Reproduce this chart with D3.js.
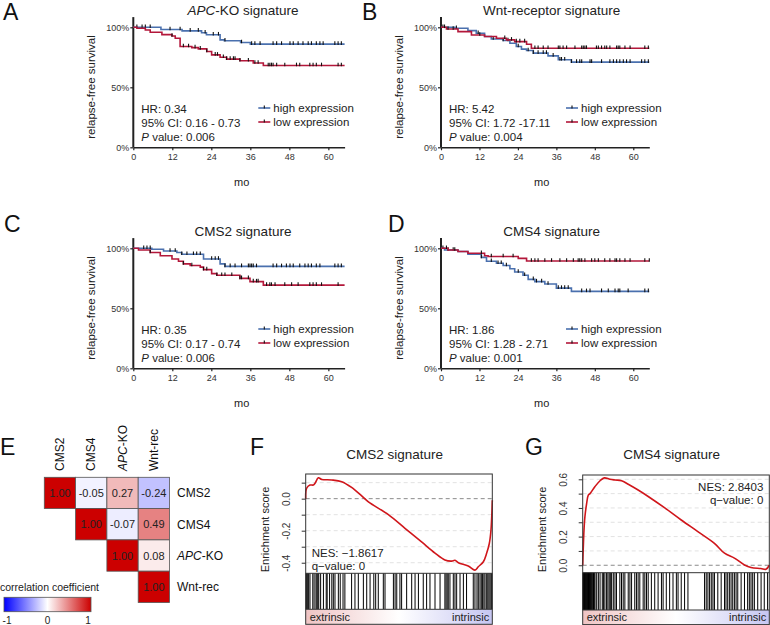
<!DOCTYPE html>
<html><head><meta charset="utf-8">
<script src="https://cdn.jsdelivr.net/npm/d3@7"></script>
<style>
body{margin:0;background:#fff;}
svg{display:block;font-family:"Liberation Sans",Arial,Helvetica,sans-serif;}
</style></head><body>
<svg id="c" width="770" height="625"></svg>
<script>
// ---------------- DATA ----------------
const monthTicks = [0, 12, 24, 36, 48, 60];
const survTicks = [0, 50, 100];
const legendLabels = ["high expression", "low expression"];

// Kaplan-Meier steps: [month, survival %]
const kmA_high = [[0,100],[8.5,98.2],[15,97],[21,95.5],[22.5,93.8],[26.7,89.5],[28,88.8],[33,87.3],[36,86]];
const kmA_low  = [[0,100],[1.1,99.2],[3.7,97.8],[5.2,95.9],[8.8,93.9],[11.9,92.8],[12.9,90.9],[14.4,84],[18,83.1],[20,82],[22.6,79.8],[24.1,77],[26.7,75.1],[28.7,73.5],[32.8,72.1],[36.9,70.2],[40,68.2]];
const kmB_high = [[0,100],[4.3,99.2],[8.4,97.2],[11,95],[13.6,92.3],[15.7,90.3],[19.4,89],[21.5,86.7],[23.5,84],[25.1,81.8],[26.7,80.7],[28.8,78.5],[33.4,76.2],[36.6,72.9],[40.7,71]];
const kmB_low  = [[0,100],[1.7,98.6],[5.3,96.4],[9.5,93.6],[13.6,92.3],[17.3,90.9],[20.4,89.5],[23,88.1],[26.7,85.9],[28.2,82.6]];
const kmC_high = [[0,100],[5.7,99.2],[9.3,97.8],[13.4,96.5],[14.9,95.1],[21.6,91.1],[26.7,87],[28.2,84.9]];
const kmC_low  = [[0,100],[1.6,98.6],[5.2,96.5],[8.3,93.8],[11.9,91.1],[13.9,89.2],[15.4,87],[17.5,85.7],[20.6,84.3],[21.6,82.2],[24.1,78.9],[25.7,77.6],[32.8,74.9],[35.9,72.2],[40,69.3]];
const kmD_high = [[0,100],[1.1,98.6],[5.3,97.3],[8.4,95.1],[12.6,92.4],[14.2,89.2],[17.3,87.6],[19.4,85.7],[21.5,83],[23,80.3],[25.6,77.6],[27.2,74.1],[29.3,72.2],[32.4,70.3],[36,66.8],[40.7,64.1]];
const kmD_low  = [[0,100],[2.2,98.6],[5.3,97.3],[8.4,95.9],[13.6,93.8],[14.7,93.2],[24.1,91.6],[26.7,89.4]];

// censoring times (months)
const censA_high = [1.1,2.7,3.7,5.2,11.3,14.4,17.5,20,22.1,24.6,26.2,28.2,33.3,36.4,37.4,39,43,44.1,45.6,48.2,49.2,50.7,52.2,53.8,54.8,56.3,57.4,58.4,62,63,64];
const censA_low  = [11.9,15.4,17,19,20.6,22.6,25.2,25.9,27.7,28.7,29.8,30.8,31.3,32.8,35.4,37.4,38.4,41.5,42,42.5,43,44.1,46.6,50.2,51.2,54.3,55.3,56.3,57.9,63,64];
const censB_high = [0.6,4.8,11.6,16.3,19.4,20.9,24.1,27.2,28.8,30.3,31.9,32.9,35,37.1,37.6,38.6,40.7,42.3,43.3,43.9,46.5,47,50.1,52.7,53.8,54.8,55.8,56.9,57.9,59,62.6,63.6,64.7];
const censB_low  = [1.1,2.2,3.8,12.1,19.9,22,23.5,24.6,26.1,29.3,30.3,31.9,33.4,36.6,37.1,38.1,39.2,41.8,43.9,44.4,44.9,45.4,48.5,49.1,50.1,51.1,51.7,52.7,54.8,55.3,55.8,57.4,59,63.6,64.7];
const censC_high = [3.2,4.2,5.2,11.3,12.9,14.9,16.5,18.5,19.5,20.6,24.1,25.2,26.2,28.2,29.8,31.3,33.3,35.4,35.9,36.4,36.9,37.9,43,44.1,45.6,47.1,48.2,49.2,51.2,52.8,53.8,54.8,56.3,57.4,62,63,64];
const censC_low  = [5.2,15.4,18,21.6,22.6,25.7,27.2,28.2,30.3,32.8,33.3,35.4,36.9,37.9,38.4,41,42,42.5,43.6,46.6,48.7,50.7,54.3,55.3,56.3,57.9,63];
const censD_high = [0.6,2.2,3.8,12.6,15.7,17.8,18.8,20.4,24.1,26.1,28.8,29.8,31.4,33.4,36.6,37.6,38.6,39.7,43.9,45.4,46.5,50.1,52.2,54.3,55.3,55.8,58.4,63.6,64.7];
const censD_low  = [1.7,4.3,12.6,15.7,19.4,22.5,28.2,29.3,30.3,32.4,34.5,37.1,39.2,41.3,42.8,43.3,43.9,44.9,47,48,49.1,51.1,52.7,54.3,54.8,55.8,57.4,59,63.6,65];

// Cox statistics [HR, 95% CI, P]
const statsA = ["0.34", "0.16 - 0.73", "0.006"];
const statsB = ["5.42", "1.72 -17.11", "0.004"];
const statsC = ["0.35", "0.17 - 0.74", "0.006"];
const statsD = ["1.86", "1.28 - 2.71", "0.001"];

// Correlation heatmap (upper triangle)
const sigNames = ["CMS2", "CMS4", "APC-KO", "Wnt-rec"];
const corrMatrix = [
  [1.00, -0.05, 0.27, -0.24],
  [null, 1.00, -0.07, 0.49],
  [null, null, 1.00, 0.08],
  [null, null, null, 1.00]
];
const corrLegendTicks = [-1, 0, 1];

// GSEA running enrichment score: [rank fraction, ES]
const esCMS2 = [[0,0],[0.005,0.065],[0.023,0.085],[0.041,0.085],[0.05,0.096],[0.068,0.13],[0.086,0.12],[0.139,0.117],[0.193,0.106],[0.246,0.07],[0.3,0.017],[0.336,-0.02],[0.443,-0.1],[0.532,-0.185],[0.621,-0.27],[0.693,-0.34],[0.746,-0.383],[0.782,-0.39],[0.8,-0.385],[0.818,-0.4],[0.871,-0.42],[0.907,-0.446],[0.925,-0.425],[0.952,-0.394],[0.97,-0.34],[0.984,-0.28],[0.993,-0.196],[1,-0.01]];
const esCMS4 = [[0,0],[0.007,0.247],[0.012,0.34],[0.021,0.43],[0.03,0.49],[0.039,0.5],[0.066,0.55],[0.093,0.59],[0.116,0.61],[0.146,0.6],[0.173,0.595],[0.208,0.59],[0.244,0.565],[0.297,0.525],[0.351,0.48],[0.44,0.4],[0.528,0.316],[0.617,0.235],[0.706,0.153],[0.76,0.084],[0.813,0.05],[0.867,0.002],[0.902,-0.016],[0.955,-0.023],[0.982,-0.028],[1,0]];
// gene set member positions (rank fraction)
const hitsCMS2 = [0.002,0.006,0.011,0.016,0.023,0.038,0.045,0.055,0.06,0.065,0.07,0.08,0.095,0.11,0.115,0.128,0.14,0.148,0.157,0.175,0.185,0.2,0.21,0.246,0.264,0.282,0.309,0.327,0.345,0.365,0.375,0.389,0.416,0.425,0.47,0.479,0.488,0.505,0.514,0.541,0.568,0.586,0.604,0.63,0.648,0.666,0.693,0.72,0.746,0.752,0.758,0.764,0.773,0.791,0.8,0.809,0.827,0.845,0.862,0.898,0.907,0.918,0.925,0.934,0.941,0.948,0.955,0.961,0.97,0.976,0.982,0.988,0.994,0.998];
const hitsCMS4 = [0.001,0.004,0.007,0.01,0.013,0.016,0.019,0.022,0.025,0.028,0.031,0.034,0.037,0.04,0.043,0.046,0.05,0.054,0.058,0.062,0.066,0.075,0.084,0.093,0.105,0.112,0.119,0.128,0.135,0.142,0.148,0.155,0.164,0.173,0.181,0.199,0.208,0.217,0.226,0.244,0.253,0.262,0.279,0.288,0.297,0.306,0.324,0.333,0.342,0.351,0.368,0.386,0.404,0.422,0.431,0.448,0.466,0.484,0.502,0.511,0.528,0.546,0.564,0.653,0.662,0.671,0.68,0.689,0.698,0.706,0.724,0.742,0.76,0.768,0.777,0.786,0.795,0.804,0.813,0.822,0.831,0.849,0.867,0.884,0.893,0.902,0.911,0.92,0.938,0.956,0.973,0.991];
const gseaNES = ["−1.8617", "2.8403"];
const gseaQ = ["0", "0"];
const gseaTitles = ["CMS2 signature", "CMS4 signature"];
const phenoLabels = ["extrinsic", "intrinsic"];

// ---------------- DRAW ----------------
const svg = d3.select("#c");
const BLUE = "#4a70ae", RED = "#b3173a";

function letter(t, x, y) {
  svg.append("text").attr("x", x).attr("y", y).attr("font-size", 23).attr("fill", "#111").text(t);
}
function richText(sel, parts) {
  parts.forEach(p => sel.append("tspan").attr("font-style", p[1] ? "italic" : "normal").text(p[0]));
}

const kmPanels = [
  {L:"A", lx:3, ly:20, title:[["APC",true],["-KO signature",false]], ax:133.3, ax65:344.6, oy:0, hi:kmA_high, lo:kmA_low, chi:censA_high, clo:censA_low, st:statsA, moX:241.7, titleX:243},
  {L:"B", lx:362, ly:20, title:[["Wnt-receptor signature",false]], ax:441, ax65:649.3, oy:0, hi:kmB_high, lo:kmB_low, chi:censB_high, clo:censB_low, st:statsB, moX:541.7, titleX:551.7},
  {L:"C", lx:4, ly:232, title:[["CMS2 signature",false]], ax:133.3, ax65:344.6, oy:221, hi:kmC_high, lo:kmC_low, chi:censC_high, clo:censC_low, st:statsC, moX:241.7, titleX:243},
  {L:"D", lx:388, ly:232, title:[["CMS4 signature",false]], ax:441, ax65:649.3, oy:221, hi:kmD_high, lo:kmD_low, chi:censD_high, clo:censD_low, st:statsD, moX:541.7, titleX:551.7}
];

function survAt(arr, t) {
  let s = arr[0][1];
  arr.forEach(d => { if (d[0] <= t) s = d[1]; });
  return s;
}

kmPanels.forEach(p => {
  letter(p.L, p.lx, p.ly);
  const g = svg.append("g");
  const x = d3.scaleLinear().domain([0, 65]).range([p.ax, p.ax65]);
  const y = d3.scaleLinear().domain([0, 100]).range([147.3 + p.oy, 27.3 + p.oy]);
  richText(g.append("text").attr("x", p.titleX).attr("y", 15 + p.oy).attr("text-anchor", "middle")
    .attr("font-size", 13.5).attr("fill", "#222"), p.title);
  const ya = g.append("g").attr("transform", `translate(${p.ax},0)`)
    .call(d3.axisLeft(y).tickValues(survTicks).tickFormat(d => d + "%").tickSize(3).tickSizeOuter(0));
  ya.select(".domain").attr("d", `M0,${y(0)}V${y(108.5)}`).attr("stroke", "#222").attr("stroke-width", 2);
  ya.selectAll(".tick line").attr("stroke", "#222").attr("stroke-width", 1.2);
  ya.selectAll(".tick text").attr("font-size", 9).attr("fill", "#333").attr("font-family", "Liberation Sans, Arial, sans-serif").attr("x", -4);
  const xa = g.append("g").attr("transform", `translate(0,${y(0)})`)
    .call(d3.axisBottom(x).tickValues(monthTicks).tickSize(3).tickSizeOuter(0));
  xa.select(".domain").attr("stroke", "#222").attr("stroke-width", 1.6);
  xa.selectAll(".tick line").attr("stroke", "#222").attr("stroke-width", 1.2);
  xa.selectAll(".tick text").attr("font-size", 9).attr("fill", "#333").attr("font-family", "Liberation Sans, Arial, sans-serif").attr("y", 6);
  g.append("text").attr("transform", `translate(${p.ax - 42},${87 + p.oy}) rotate(-90)`).attr("text-anchor", "middle")
    .attr("dominant-baseline", "central").attr("font-size", 11.5).attr("fill", "#222").text("relapse-free survival");
  g.append("text").attr("x", p.moX).attr("y", 186 + p.oy).attr("text-anchor", "middle").attr("font-size", 11).attr("fill", "#222").text("mo");
  const line = d3.line().x(d => x(d[0])).y(d => y(d[1])).curve(d3.curveStepAfter);
  [[p.hi, BLUE, p.chi], [p.lo, RED, p.clo]].forEach(([arr, col, cens]) => {
    const pts = arr.concat([[65, arr[arr.length - 1][1]]]);
    g.append("path").datum(pts).attr("d", line).attr("fill", "none").attr("stroke", col).attr("stroke-width", 1.6);
    g.selectAll(null).data(cens).enter().append("line")
      .attr("x1", d => x(d)).attr("x2", d => x(d))
      .attr("y1", d => y(survAt(arr, d)) - 2.8).attr("y2", d => y(survAt(arr, d)) + 0.8)
      .attr("stroke", "#111").attr("stroke-width", 1.1);
  });
  const sx = p.ax + 8;
  const sy = [113, 127, 141];
  g.append("text").attr("x", sx).attr("y", sy[0] + p.oy).attr("font-size", 11.5).attr("fill", "#222").text("HR: " + p.st[0]);
  g.append("text").attr("x", sx).attr("y", sy[1] + p.oy).attr("font-size", 11.5).attr("fill", "#222").text("95% CI: " + p.st[1]);
  richText(g.append("text").attr("x", sx).attr("y", sy[2] + p.oy).attr("font-size", 11.5).attr("fill", "#222"),
    [["P", true], [" value: " + p.st[2], false]]);
  [BLUE, RED].forEach((col, i) => {
    const ly = 108 + i * 14 + p.oy;
    g.append("line").attr("x1", p.ax + 125).attr("x2", p.ax + 137).attr("y1", ly).attr("y2", ly).attr("stroke", col).attr("stroke-width", 1.6);
    g.append("line").attr("x1", p.ax + 131).attr("x2", p.ax + 131).attr("y1", ly - 2.5).attr("y2", ly + 0.5).attr("stroke", "#111").attr("stroke-width", 1.1);
    g.append("text").attr("x", p.ax + 140).attr("y", ly + 4).attr("font-size", 11.5).attr("fill", "#222").text(legendLabels[i]);
  });
});

// ---------------- E: heatmap ----------------
letter("E", 0, 455);
const hx = d3.scaleBand().domain(sigNames).range([44.3, 169.5]);
const hy = d3.scaleBand().domain(sigNames).range([477.3, 602.5]);
const corrColor = d3.scaleLinear().domain([-1, 0, 1]).range(["#0000ff", "#ffffff", "#cc0000"]);
function nameParts(n) { return n.startsWith("APC") ? [["APC", true], [n.slice(3), false]] : [[n, false]]; }
const cells = [];
corrMatrix.forEach((row, i) => row.forEach((v, j) => { if (v !== null) cells.push({r: sigNames[i], c: sigNames[j], v}); }));
const hg = svg.append("g");
hg.selectAll("rect").data(cells).enter().append("rect")
  .attr("x", d => hx(d.c)).attr("y", d => hy(d.r)).attr("width", hx.bandwidth()).attr("height", hy.bandwidth())
  .attr("fill", d => corrColor(d.v)).attr("stroke", "#555").attr("stroke-width", 0.8);
hg.selectAll("text.v").data(cells).enter().append("text").attr("class", "v")
  .attr("x", d => hx(d.c) + hx.bandwidth() / 2).attr("y", d => hy(d.r) + hy.bandwidth() / 2 + 4)
  .attr("text-anchor", "middle").attr("font-size", 11).attr("fill", "#222").text(d => d.v.toFixed(2));
sigNames.forEach(n => {
  richText(hg.append("text").attr("transform", `translate(${hx(n) + hx.bandwidth() / 2 + 4},471) rotate(-90)`)
    .attr("font-size", 12).attr("fill", "#111"), nameParts(n));
  richText(hg.append("text").attr("x", 177).attr("y", hy(n) + hy.bandwidth() / 2 + 4.5)
    .attr("font-size", 12).attr("fill", "#111"), nameParts(n));
});
hg.append("text").attr("x", 0).attr("y", 591).attr("font-size", 10.5).attr("fill", "#222").text("correlation coefficient");
const defs = svg.append("defs");
const lg = defs.append("linearGradient").attr("id", "corrGrad");
[-1, -0.5, 0, 0.5, 1].forEach(v => lg.append("stop").attr("offset", ((v + 1) / 2 * 100) + "%").attr("stop-color", corrColor(v)));
const cl = d3.scaleLinear().domain([-1, 1]).range([7, 88]);
hg.append("rect").attr("x", 4).attr("y", 597.3).attr("width", 87).attr("height", 14.4).attr("fill", "url(#corrGrad)").attr("stroke", "#555").attr("stroke-width", 0.8);
corrLegendTicks.forEach(t => hg.append("text").attr("x", cl(t)).attr("y", 624).attr("text-anchor", "middle").attr("font-size", 10).attr("fill", "#222").text(t));

// ---------------- F, G: GSEA ----------------
const pg = defs.append("linearGradient").attr("id", "phenoGrad");
[["0%", "#efc4c4"], ["50%", "#ffffff"], ["100%", "#c6c6f2"]].forEach(s => pg.append("stop").attr("offset", s[0]).attr("stop-color", s[1]));

const gseaPanels = [
  {L:"F", lx:250, left:305.7, right:492.3, top:474, esBot:573.3, barBot:609.3, gradBot:624.3, dom:[0.154, -0.466], ticks:[0.1,0,-0.1,-0.2,-0.3,-0.4], es:esCMS2, hits:hitsCMS2, idx:0, nesRight:false},
  {L:"G", lx:525, left:582.7, right:769.3, top:475, esBot:572.7, barBot:610, gradBot:624.6, dom:[0.63, -0.052], ticks:[0,0.1,0.2,0.3,0.4,0.5,0.6], es:esCMS4, hits:hitsCMS4, idx:1, nesRight:true}
];
gseaPanels.forEach(p => {
  letter(p.L, p.lx, 455);
  const g = svg.append("g");
  const x = d3.scaleLinear().domain([0, 1]).range([p.left, p.right]);
  const y = d3.scaleLinear().domain(p.dom).range([p.top, p.esBot]);
  g.append("text").attr("x", p.left + 89).attr("y", 459).attr("text-anchor", "middle").attr("font-size", 13.5).attr("fill", "#222").text(gseaTitles[p.idx]);
  p.ticks.forEach(t => {
    g.append("line").attr("x1", p.left).attr("x2", p.right).attr("y1", y(t)).attr("y2", y(t))
      .attr("stroke", Math.abs(t) < 1e-9 ? "#8a8a8a" : "#e2e2e2").attr("stroke-width", 1).attr("stroke-dasharray", "4,3");
  });
  g.selectAll(null).data(p.hits).enter().append("line")
    .attr("x1", d => x(d)).attr("x2", d => x(d)).attr("y1", p.esBot).attr("y2", p.barBot)
    .attr("stroke", "#000").attr("stroke-width", 1);
  g.append("rect").attr("x", p.left).attr("y", p.barBot).attr("width", p.right - p.left).attr("height", p.gradBot - p.barBot).attr("fill", "url(#phenoGrad)");
  g.append("text").attr("x", p.left + 4).attr("y", p.gradBot - 3.5).attr("font-size", 11).attr("fill", "#222").text(phenoLabels[0]);
  g.append("text").attr("x", p.right - 3).attr("y", p.gradBot - 3.5).attr("text-anchor", "end").attr("font-size", 11).attr("fill", "#222").text(phenoLabels[1]);
  g.append("path").datum(p.es).attr("d", d3.line().x(d => x(d[0])).y(d => y(d[1])).curve(d3.curveCatmullRom.alpha(0.5)))
    .attr("fill", "none").attr("stroke", "#d0161b").attr("stroke-width", 1.6);
  g.append("rect").attr("x", p.left).attr("y", p.top).attr("width", p.right - p.left).attr("height", p.gradBot - p.top)
    .attr("fill", "none").attr("stroke", "#333").attr("stroke-width", 1);
  [p.esBot, p.barBot].forEach(yy => g.append("line").attr("x1", p.left).attr("x2", p.right).attr("y1", yy).attr("y2", yy).attr("stroke", "#333").attr("stroke-width", 1));
  const ya = g.append("g").attr("transform", `translate(${p.left},0)`)
    .call(d3.axisLeft(y).tickValues(p.ticks).tickSize(4).tickSizeOuter(0)
      .tickFormat(d => (Math.round(d * 10) % 2 === 0) ? d3.format(".1f")(d).replace("−", "-") : ""));
  ya.select(".domain").remove();
  ya.selectAll(".tick line").attr("stroke", "#333");
  ya.selectAll(".tick text").attr("font-size", 10).attr("fill", "#333").attr("font-family", "Liberation Sans, Arial, sans-serif")
    .attr("x", 0).attr("dy", 0).attr("text-anchor", "middle")
    .attr("transform", "translate(-16,0) rotate(-90)");
  g.append("text").attr("transform", `translate(${p.left - 41},529.5) rotate(-90)`).attr("text-anchor", "middle")
    .attr("dominant-baseline", "central").attr("font-size", 11).attr("fill", "#222").text("Enrichment score");
  const nx = p.nesRight ? p.right - 6 : p.left + 6;
  const anchor = p.nesRight ? "end" : "start";
  const ny = p.nesRight ? [491, 504] : [556.5, 569.5];
  g.append("text").attr("x", nx).attr("y", ny[0]).attr("text-anchor", anchor).attr("font-size", 11.5).attr("fill", "#222").text("NES: " + gseaNES[p.idx]);
  g.append("text").attr("x", nx).attr("y", ny[1]).attr("text-anchor", anchor).attr("font-size", 11.5).attr("fill", "#222").text("q−value: " + gseaQ[p.idx]);
});
</script></body></html>
